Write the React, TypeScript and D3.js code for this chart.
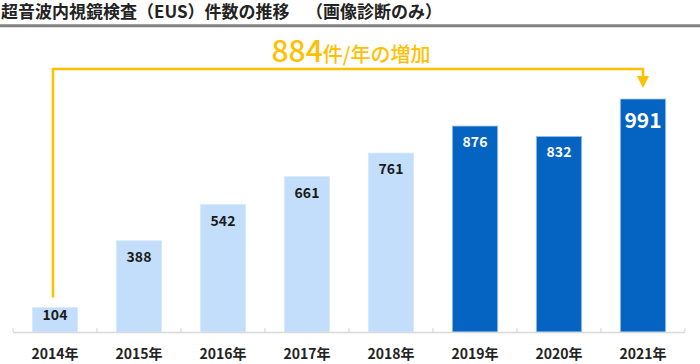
import React from "react";
import * as d3 from "d3";

const years = ["2014年", "2015年", "2016年", "2017年", "2018年", "2019年", "2020年", "2021年"];
const counts = [104, 388, 542, 661, 761, 876, 832, 991];
const highlight = [false, false, false, false, false, true, true, true];
const titleMain = "超音波内視鏡検査（EUS）件数の推移";
const titleSub = "（画像診断のみ）";
const annotationNumber = "884";
const annotationUnit = "件/年の増加";

const W = 700;
const H = 364;
const FONT = "'Noto Sans CJK JP', 'Noto Sans', sans-serif";
const LIGHT = "#C2DEFA";
const DARK = "#0563C1";
const ORANGE = "#FFC000";

export default function App() {
  const x = d3
    .scaleBand<string>()
    .domain(years)
    .range([13, 685])
    .paddingInner(0.46)
    .paddingOuter(0.23);
  const y = d3.scaleLinear().domain([0, 1000]).range([332, 332 - 235.1]);
  const bw = x.bandwidth();
  const step = x.step();
  const base = y(0);

  const firstX = (x(years[0]) as number) + bw / 2 - 2;
  const lastX = (x(years[years.length - 1]) as number) + bw / 2;
  const bracketY = 69;
  const leftBottom = y(counts[0]) - 10;
  const arrowTip = y(counts[counts.length - 1]) - 11;

  const boundaries = d3.range(years.length + 1).map((i) => 13 + i * step);

  return (
    <svg
      width={W}
      height={H}
      style={{ position: "absolute", left: 0, top: 0, background: "#fff" }}
      fontFamily={FONT}
    >
      <text x={1} y={17.5} fontSize={17} fontWeight="bold" fill="#222">
        {titleMain}
      </text>
      <text x={306} y={17.5} fontSize={17} fontWeight="bold" fill="#222">
        {titleSub}
      </text>
      <line x1={0} x2={W} y1={25.7} y2={25.7} stroke="#808080" strokeWidth={3} />

      {/* bars */}
      {counts.map((v, i) => (
        <rect
          key={years[i]}
          x={x(years[i]) as number}
          y={y(v)}
          width={bw}
          height={base - y(v)}
          fill={highlight[i] ? DARK : LIGHT}
          stroke={highlight[i] ? "#9DC3E6" : "#D6E9FC"}
          strokeWidth={0.8}
        />
      ))}

      {/* value labels */}
      {counts.map((v, i) => {
        const big = i === counts.length - 1;
        const cy = big ? y(v) + 29 : Math.min(y(v) + 21, base - 12);
        return (
          <text
            key={"l" + years[i]}
            x={(x(years[i]) as number) + bw / 2}
            y={cy}
            textAnchor="middle"
            fontSize={big ? 21 : 14}
            fontWeight="bold"
            fill={highlight[i] ? "#fff" : "#1a1a1a"}
          >
            {v}
          </text>
        );
      })}

      {/* axis */}
      <line x1={13} x2={685} y1={base + 0.5} y2={base + 0.5} stroke="#D9D9D9" strokeWidth={1.5} />
      {boundaries.map((bx) => (
        <line key={"t" + bx} x1={bx} x2={bx} y1={base - 4} y2={base} stroke="#D9D9D9" strokeWidth={1.2} />
      ))}
      {years.map((yr) => (
        <text
          key={"x" + yr}
          x={(x(yr) as number) + bw / 2}
          y={359}
          textAnchor="middle"
          fontSize={14}
          fontWeight="bold"
          fill="#222"
        >
          {yr}
        </text>
      ))}

      {/* bracket annotation */}
      <path
        d={`M${firstX},${leftBottom} V${bracketY} H${lastX} V${arrowTip - 12}`}
        fill="none"
        stroke={ORANGE}
        strokeWidth={2.6}
      />
      <path
        d={`M${lastX - 6},${arrowTip - 12} L${lastX + 6},${arrowTip - 12} L${lastX},${arrowTip} Z`}
        fill={ORANGE}
      />
      <text x={(firstX + lastX) / 2 + 3} y={62} textAnchor="middle" fill={ORANGE} fontWeight={500}>
        <tspan fontSize={30}>{annotationNumber}</tspan>
        <tspan fontSize={20}>{annotationUnit}</tspan>
      </text>
    </svg>
  );
}
